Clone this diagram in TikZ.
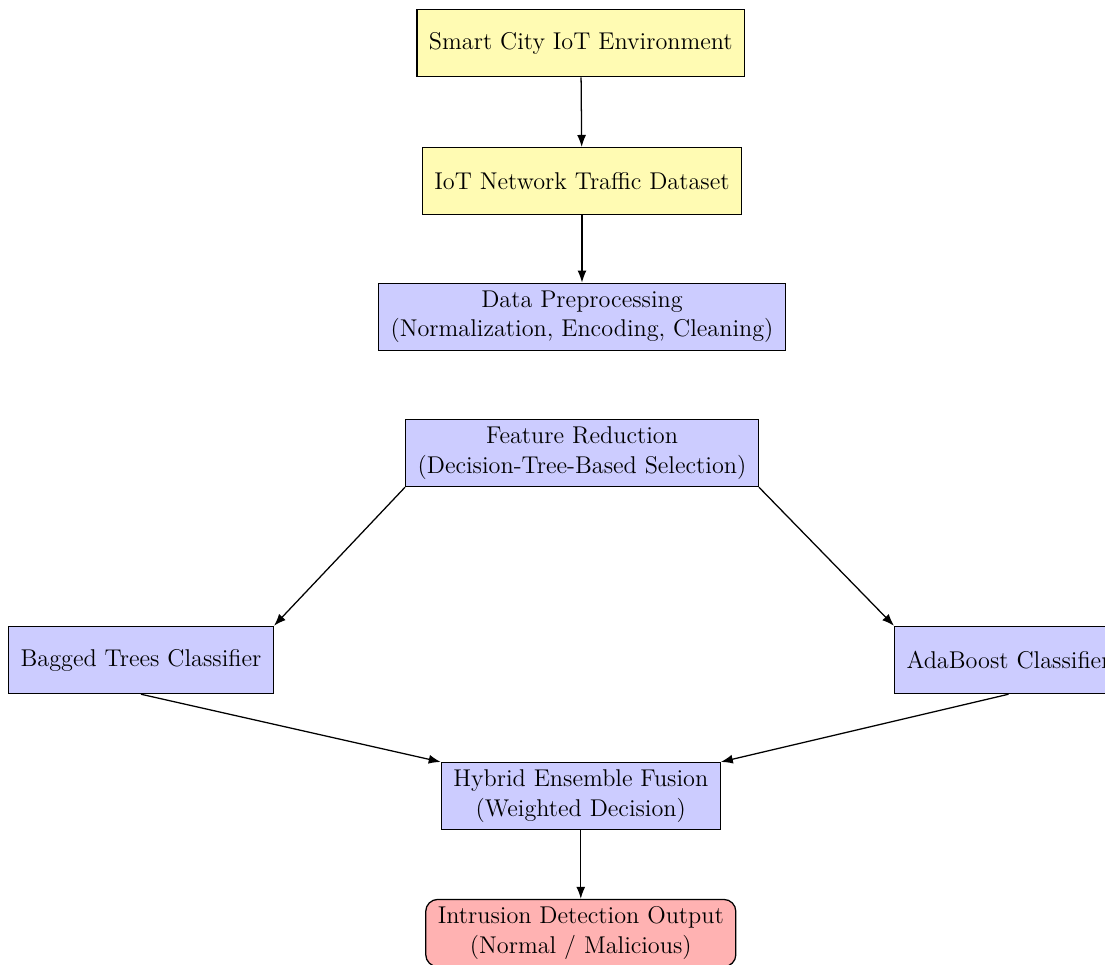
\documentclass[tikz,border=0pt]{standalone}
\usetikzlibrary{arrows.meta}

\begin{document}
\begin{tikzpicture}[
    box/.style={draw, semithick, minimum height=1.12cm, inner xsep=0.2cm,
      align=center, font=\fontsize{11.5pt}{14pt}\selectfont},
    envbox/.style={box, fill=yellow!30},
    procbox/.style={box, fill=blue!20},
    outbox/.style={box, fill=red!30, rounded corners=2mm},
    flow/.style={-{Latex[length=2mm]}, semithick}]
  \useasboundingbox (0,0) rectangle (18.417,-16.083);
  \clip (0,0) rectangle (18.417,-16.083);
  \node[envbox]  (smart)   at (9.68,-0.72) {Smart City IoT Environment};
  \node[envbox]  (dataset) at (9.70,-3.02) {IoT Network Traffic Dataset};
  \node[procbox] (prep)    at (9.70,-5.28)
       {Data Preprocessing\\(Normalization, Encoding, Cleaning)};
  \node[procbox] (feat)    at (9.70,-7.55)
       {Feature Reduction\\(Decision-Tree-Based Selection)};
  \node[procbox] (bagged)  at (2.35,-11.0) {Bagged Trees Classifier};
  \node[procbox, anchor=west] (ada) at (14.9,-11.0) {AdaBoost Classifier};
  \node[procbox] (hybrid)  at (9.68,-13.27)
       {Hybrid Ensemble Fusion\\(Weighted Decision)};
  \node[outbox, anchor=north] (output) at (9.68,-14.98)
       {Intrusion Detection Output\\(Normal / Malicious)};
  \draw[flow] (smart) -- (dataset);
  \draw[flow] (dataset) -- (prep);
  \draw[flow] (feat.south west) -- (bagged.north east);
  \draw[flow] (feat.south east) -- (ada.north west);
  \draw[flow] (bagged.south) -- (hybrid.north west);
  \draw[flow] (ada.south) -- (hybrid.north east);
  \draw[flow] (hybrid) -- (output);
\end{tikzpicture}
\end{document}
